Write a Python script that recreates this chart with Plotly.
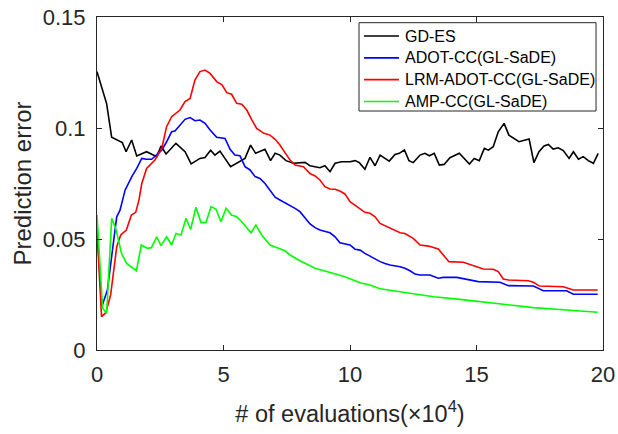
import plotly.graph_objects as go

# ---- data (x in units of 10^4 evaluations) ----
gd_x = [0, 0.38, 0.58, 0.91, 1.0, 1.15, 1.37, 1.57, 1.96, 2.36, 2.53, 2.73, 3.12, 3.48, 3.72, 4.07, 4.27, 4.49, 4.66, 4.86,
        5.28, 5.85, 6.07, 6.27, 6.64, 6.86, 7.04, 7.23, 7.47, 7.76, 8.22, 8.42, 8.81, 9.01, 9.21, 9.41, 9.67, 10.0, 10.2,
        10.37, 10.59, 10.79, 10.99, 11.19, 11.55, 11.78, 11.95, 12.15, 12.33, 12.5, 12.77, 12.96, 13.14, 13.33, 13.53,
        13.72, 13.95, 14.32, 14.72, 14.91, 15.11, 15.31, 15.47, 15.66, 15.86, 16.09, 16.28, 16.68, 17.08, 17.27, 17.47,
        17.67, 17.84, 18.03, 18.23, 18.43, 18.66, 18.83, 19.03, 19.22, 19.42, 19.62, 19.81]
gd_y = [0.1254, 0.111, 0.0958, 0.0938, 0.0934, 0.0893, 0.0946, 0.0874, 0.0893, 0.0871, 0.0919, 0.0883, 0.0931, 0.0893,
        0.0838, 0.0863, 0.0867, 0.090, 0.0878, 0.0896, 0.0826, 0.0863, 0.0923, 0.0886, 0.0904, 0.0853, 0.0886, 0.0878,
        0.0853, 0.0841, 0.0845, 0.083, 0.0821, 0.083, 0.0803, 0.0841, 0.0848, 0.0848, 0.0853, 0.0844, 0.0814, 0.0868,
        0.083, 0.0878, 0.0851, 0.0881, 0.0886, 0.0901, 0.0853, 0.0844, 0.0878, 0.0886, 0.0875, 0.0886, 0.0833, 0.0836,
        0.0866, 0.0886, 0.0838, 0.0863, 0.0853, 0.0908, 0.090, 0.0916, 0.0983, 0.1021, 0.0968, 0.0938, 0.0950, 0.0844,
        0.0893, 0.0919, 0.0926, 0.0905, 0.0911, 0.0898, 0.0863, 0.0893, 0.0859, 0.0871, 0.0853, 0.0841, 0.0886]

adot_x = [0, 0.19, 0.41, 0.6, 0.78, 0.91, 1.11, 1.37, 1.57, 1.77, 1.96, 2.16, 2.36, 2.56, 2.75, 2.95, 3.08, 3.28, 3.48,
          3.68, 3.87, 4.07, 4.27, 4.47, 4.73, 5.06, 5.26, 5.45, 5.65, 5.85, 6.05, 6.25, 6.44, 6.64, 6.84, 7.04, 7.23,
          7.43, 7.63, 7.83, 8.02, 8.22, 8.42, 8.62, 8.81, 9.21, 9.41, 9.6, 9.8, 10.0, 10.2, 10.4, 10.59, 10.79, 10.99,
          11.19, 11.38, 11.58, 11.98, 12.17, 12.37, 12.57, 12.77, 13.16, 13.49, 13.69, 14.22, 14.41, 15.07, 15.93,
          16.26, 17.25, 17.64, 18.56, 18.83, 19.79]
adot_y = [0.055, 0.0195, 0.027, 0.045, 0.060, 0.063, 0.072, 0.078, 0.0818, 0.0863, 0.0859, 0.0859, 0.0878, 0.090, 0.0938,
          0.0983, 0.0986, 0.1014, 0.1039, 0.1047, 0.1033, 0.1036, 0.1021, 0.0991, 0.0958, 0.0953, 0.0904, 0.0878,
          0.0875, 0.0826, 0.0811, 0.0781, 0.0773, 0.075, 0.072, 0.0688, 0.0676, 0.0664, 0.0649, 0.0638, 0.0623,
          0.0596, 0.0568, 0.0551, 0.0541, 0.0528, 0.051, 0.0483, 0.0477, 0.0473, 0.0454, 0.045, 0.0435, 0.0423,
          0.0408, 0.0398, 0.039, 0.0383, 0.0375, 0.0368, 0.0357, 0.0342, 0.0338, 0.0338, 0.0323, 0.0327, 0.0327,
          0.0323, 0.0308, 0.0305, 0.029, 0.0288, 0.0267, 0.0267, 0.0251, 0.0251]

lrm_x = [0, 0.18, 0.35, 0.54, 0.78, 0.94, 1.16, 1.36, 1.53, 1.66, 1.77, 1.96, 2.29, 2.56, 2.75, 2.95, 3.28, 3.48, 3.68,
         3.87, 4.07, 4.27, 4.47, 4.73, 4.94, 5.13, 5.32, 5.52, 5.72, 5.92, 6.11, 6.31, 6.60, 6.84, 7.04, 7.23, 7.43,
         7.63, 7.83, 8.16, 8.42, 8.62, 8.81, 9.01, 9.21, 9.41, 9.6, 9.8, 10.0, 10.2, 10.4, 10.59, 10.79, 10.99, 11.19,
         11.58, 11.98, 12.17, 12.5, 12.77, 13.1, 13.49, 13.69, 13.91, 14.48, 14.68, 14.94, 15.27, 15.66, 15.86, 16.06,
         16.26, 17.05, 17.25, 17.49, 18.43, 18.83, 19.79]
lrm_y = [0.054, 0.015, 0.0168, 0.0248, 0.0465, 0.0518, 0.054, 0.0608, 0.062, 0.0676, 0.075, 0.0818, 0.0856, 0.0908,
         0.1006, 0.1051, 0.1081, 0.1119, 0.1133, 0.1216, 0.1254, 0.1261, 0.1246, 0.1209, 0.1194, 0.1159, 0.1152,
         0.1111, 0.1107, 0.1081, 0.1039, 0.0998, 0.0976, 0.0968, 0.0949, 0.0923, 0.0889, 0.0856, 0.0833, 0.0826,
         0.0795, 0.0784, 0.0766, 0.0736, 0.0725, 0.0724, 0.0716, 0.0703, 0.0668, 0.0653, 0.0638, 0.062, 0.0616,
         0.060, 0.057, 0.0548, 0.0528, 0.0525, 0.0503, 0.0473, 0.0468, 0.0455, 0.0428, 0.0398, 0.0395, 0.0387,
         0.0375, 0.0365, 0.0364, 0.0353, 0.032, 0.0315, 0.0312, 0.0305, 0.0288, 0.0285, 0.027, 0.027]

amp_x = [0, 0.22, 0.38, 0.58, 0.74, 0.97, 1.17, 1.56, 1.75, 1.99, 2.15, 2.36, 2.53, 2.75, 2.95, 3.12, 3.32, 3.52, 3.70,
         3.91, 4.11, 4.31, 4.51, 4.70, 4.90, 5.1, 5.32, 5.52, 5.72, 5.89, 6.09, 6.28, 6.51, 6.84, 7.17, 7.43, 7.63,
         8.02, 8.62, 9.21, 9.74, 10.4, 10.79, 11.19, 11.98, 12.77, 13.3, 14.35, 15.14, 16.19, 17.25, 18.56, 19.79]
amp_y = [0.0608, 0.0188, 0.0165, 0.0593, 0.0548, 0.0435, 0.039, 0.0357, 0.0473, 0.0458, 0.0461, 0.051, 0.047, 0.051,
         0.0473, 0.0525, 0.0518, 0.0593, 0.0543, 0.0643, 0.0574, 0.0575, 0.0646, 0.0635, 0.0578, 0.0638, 0.0608,
         0.060, 0.0578, 0.0553, 0.0528, 0.0563, 0.0518, 0.0473, 0.0458, 0.0447, 0.0428, 0.0402, 0.0368, 0.0348,
         0.0332, 0.0303, 0.0293, 0.0276, 0.0263, 0.0252, 0.024, 0.0228, 0.0218, 0.0206, 0.0191, 0.018, 0.017]

series_names = ["GD-ES", "ADOT-CC(GL-SaDE)", "LRM-ADOT-CC(GL-SaDE)", "AMP-CC(GL-SaDE)"]
series_colors = ["#000000", "#0000FF", "#FF0000", "#00FF00"]
series_x = [gd_x, adot_x, lrm_x, amp_x]
series_y = [gd_y, adot_y, lrm_y, amp_y]

x_ticks = [0, 5, 10, 15, 20]
y_ticks = [0, 0.05, 0.1, 0.15]
y_tick_text = ["0", "0.05", "0.1", "0.15"]

FONT = "Liberation Sans, Arial, Helvetica, sans-serif"
AX = "#262626"

fig = go.Figure()
for name, color, xs, ys in zip(series_names, series_colors, series_x, series_y):
    fig.add_trace(go.Scatter(x=xs, y=ys, mode="lines", name=name, showlegend=False,
                             line=dict(color=color, width=1.6)))

# ---- legend box (MATLAB style), in paper coordinates ----
LEG_X0, LEG_X1, LEG_Y0, LEG_Y1 = 0.5178, 0.9862, 0.7177, 0.9829
ROW_TOP, ROW_STEP = 0.9429, 0.0655
SAMPLE_X0, SAMPLE_X1, TEXT_X = 0.5277, 0.5968, 0.6047

shapes = [dict(type="rect", xref="paper", yref="paper", x0=LEG_X0, x1=LEG_X1, y0=LEG_Y0, y1=LEG_Y1,
               line=dict(color=AX, width=1), fillcolor="white", layer="above")]
annotations = []
for i, (name, color) in enumerate(zip(series_names, series_colors)):
    yy = ROW_TOP - i * ROW_STEP
    shapes.append(dict(type="line", xref="paper", yref="paper", x0=SAMPLE_X0, x1=SAMPLE_X1, y0=yy, y1=yy,
                       line=dict(color=color, width=1.6), layer="above"))
    annotations.append(dict(xref="paper", yref="paper", x=TEXT_X, y=yy, xanchor="left", yanchor="middle",
                            text=name, showarrow=False,
                            font=dict(family=FONT, size=16, color="#000000")))

axis_common = dict(showline=True, linecolor=AX, linewidth=1, mirror="ticks", automargin=False,
                   ticks="inside", ticklen=5, tickcolor=AX, showgrid=False, zeroline=False,
                   tickfont=dict(family=FONT, size=22, color=AX))

fig.update_layout(
    width=618, height=434,
    margin=dict(l=97, r=15, t=17, b=84),
    plot_bgcolor="white", paper_bgcolor="white",
    font=dict(family=FONT, color=AX),
    xaxis=dict(range=[0, 20], tickvals=x_ticks, ticklabelstandoff=5,
               title=dict(text="# of evaluations(×10<sup>4</sup>)", font=dict(family=FONT, size=23.5, color=AX),
                          standoff=19),
               **axis_common),
    yaxis=dict(range=[0, 0.15], tickvals=y_ticks, ticktext=y_tick_text, ticklabelstandoff=6,
               title=dict(text="Prediction error", font=dict(family=FONT, size=24, color=AX), standoff=4),
               **axis_common),
    shapes=shapes,
    annotations=annotations,
    showlegend=False,
)

fig.write_html("out.html")
